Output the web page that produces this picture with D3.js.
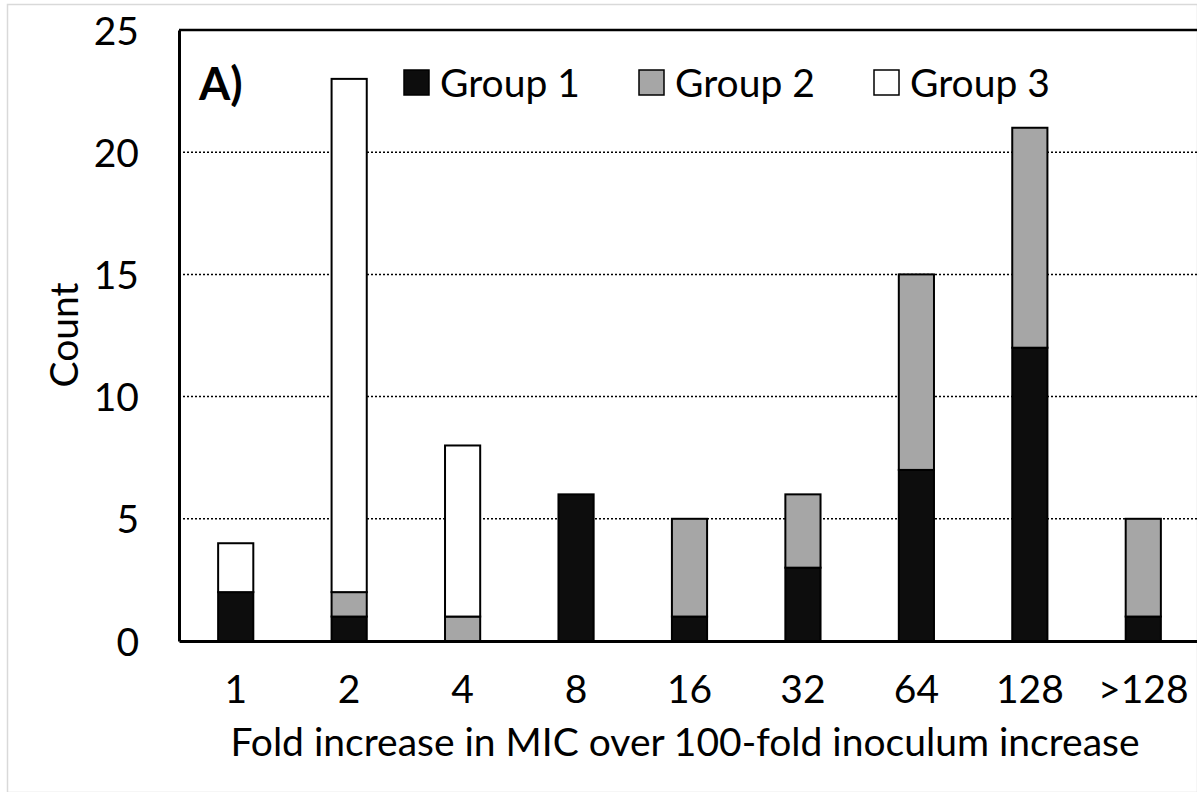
<!DOCTYPE html>
<html>
<head>
<meta charset="utf-8">
<script src="https://cdn.jsdelivr.net/npm/d3@7"></script>
<style>
  body { margin: 0; background: #fff; }
  svg text { font-family: Lato, "Open Sans", sans-serif; fill: #000; }
</style>
</head>
<body>
<svg width="1197" height="792"></svg>
<script>
const categories = ['1', '2', '4', '8', '16', '32', '64', '128', '>128'];
const group1 = [2, 1, 0, 6, 1, 3, 7, 12, 1];
const group2 = [0, 1, 1, 0, 4, 3, 8, 9, 4];
const group3 = [2, 21, 7, 0, 0, 0, 0, 0, 0];
const seriesNames = ['Group 1', 'Group 2', 'Group 3'];
const yTicks = [0, 5, 10, 15, 20, 25];

const colors = ['#0d0d0d', '#a6a6a6', '#ffffff'];

var svg = d3.select('svg');
var width = +svg.attr('width');
var height = +svg.attr('height');

// light outer frame
svg.append('rect')
  .attr('x', 7.5).attr('y', 4.5)
  .attr('width', width - 7).attr('height', height - 4)
  .attr('fill', 'none').attr('stroke', '#d9d9d9').attr('stroke-width', 1.5);

const margin = {top: 30, right: -3, bottom: 151, left: 179};
const innerWidth = width - margin.left - margin.right;
const innerHeight = height - margin.top - margin.bottom;

const g = svg.append('g')
  .attr('transform', `translate(${margin.left}, ${margin.top})`);

const xScale = d3.scaleBand()
  .domain(categories)
  .range([0, innerWidth])
  .paddingInner(0.69)
  .paddingOuter(0.345);

const yScale = d3.scaleLinear()
  .domain([0, 25])
  .range([innerHeight, 0]);

// dotted gridlines
g.selectAll('.grid').data(yTicks.filter(d => d > 0 && d < 25))
  .enter().append('line')
  .attr('x1', 0).attr('x2', innerWidth)
  .attr('y1', d => yScale(d)).attr('y2', d => yScale(d))
  .attr('stroke', '#000').attr('stroke-width', 1.5)
  .attr('stroke-dasharray', '2,2');

// top border
g.append('line')
  .attr('x1', 0).attr('x2', innerWidth)
  .attr('y1', yScale(25)).attr('y2', yScale(25))
  .attr('stroke', '#000').attr('stroke-width', 2.5);

// stacked bars
const table = categories.map((c, i) => ({cat: c, g1: group1[i], g2: group2[i], g3: group3[i]}));
const stack = d3.stack().keys(['g1', 'g2', 'g3'])(table);

stack.forEach((layer, k) => {
  g.append('g').selectAll('rect').data(layer.filter(d => d[1] > d[0]))
    .enter().append('rect')
    .attr('x', d => xScale(d.data.cat))
    .attr('y', d => yScale(d[1]))
    .attr('width', xScale.bandwidth())
    .attr('height', d => yScale(d[0]) - yScale(d[1]))
    .attr('fill', colors[k])
    .attr('stroke', '#000')
    .attr('stroke-width', 2);
});

// axes
const yAxis = g.append('g').call(d3.axisLeft(yScale).tickValues(yTicks).tickSize(0).tickPadding(40));
yAxis.select('.domain').attr('stroke', '#000').attr('stroke-width', 3);
yAxis.selectAll('text').style('font-size', '39px').attr('dy', '0.36em');

const xAxis = g.append('g').call(d3.axisBottom(xScale).tickSize(0).tickPadding(34))
  .attr('transform', `translate(0,${innerHeight})`);
xAxis.select('.domain').attr('stroke', '#000').attr('stroke-width', 3);
xAxis.selectAll('text').style('font-size', '39px');

// axis titles
svg.append('text')
  .attr('x', 685).attr('y', 756)
  .attr('text-anchor', 'middle')
  .style('font-size', '39px')
  .text('Fold increase in MIC over 100-fold inoculum increase');

svg.append('text')
  .attr('transform', 'translate(78,335) rotate(-90)')
  .attr('text-anchor', 'middle')
  .style('font-size', '39px')
  .text('Count');

// panel label
svg.append('text')
  .attr('x', 199).attr('y', 100)
  .style('font-size', '45px').style('font-weight', 'bold')
  .text('A)');

// legend
const legend = svg.append('g').attr('transform', 'translate(404,70)');
const items = legend.selectAll('g').data(seriesNames)
  .enter().append('g')
  .attr('transform', (d, i) => `translate(${i * 235},0)`);
items.append('rect')
  .attr('width', 25).attr('height', 25)
  .attr('fill', (d, i) => colors[i])
  .attr('stroke', '#000').attr('stroke-width', 1.5);
items.append('text')
  .attr('x', 36).attr('y', 27)
  .style('font-size', '39px')
  .text(d => d);
</script>
</body>
</html>
